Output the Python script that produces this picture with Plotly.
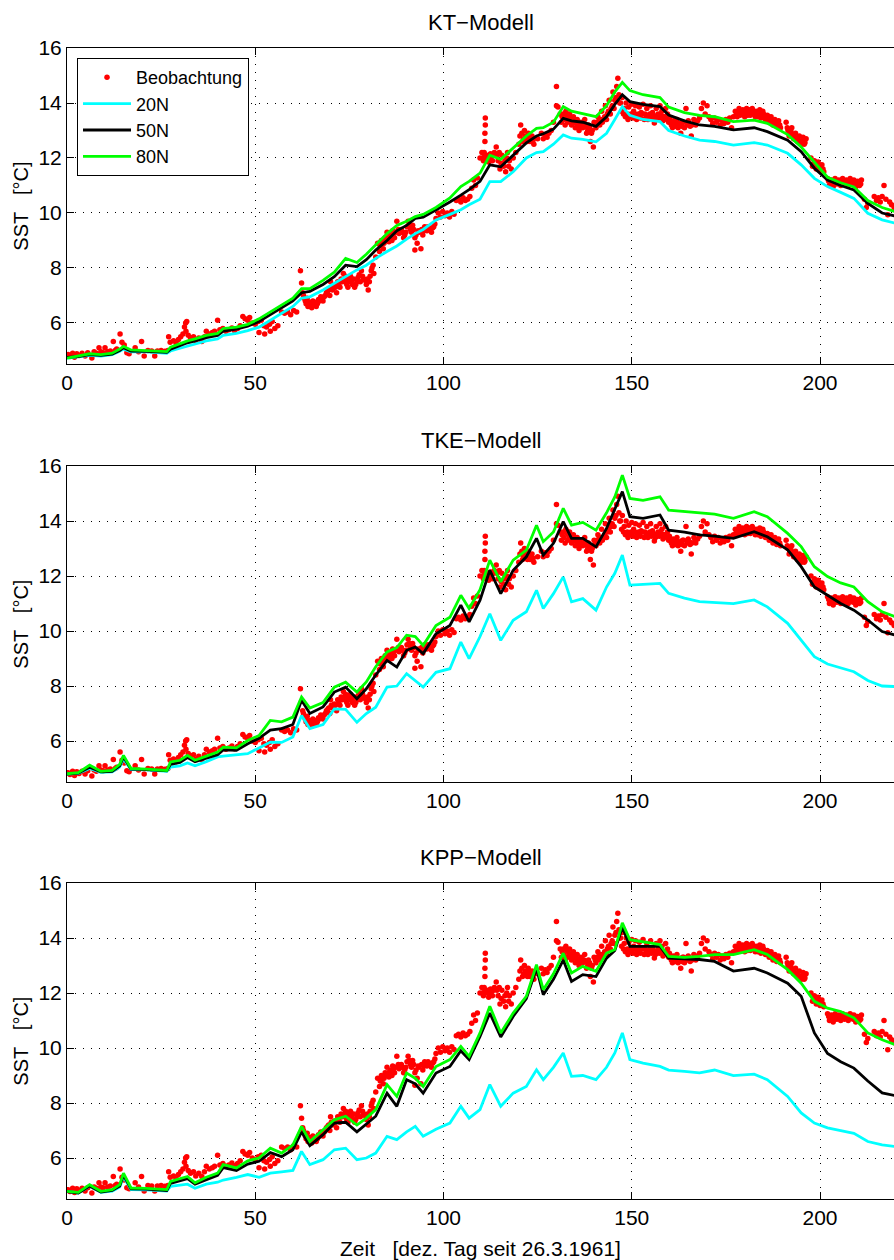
import plotly.graph_objects as go

# ---------------- data ----------------
model_x = [0, 3, 6, 9, 12, 14, 15, 17, 21, 26.5,
           27.5, 30, 32, 34, 37, 40, 41.5, 45, 48, 51,
           54, 57, 60, 62.3, 64.5, 68, 71, 74, 77, 79.5,
           82, 85, 87.6, 90.2, 92.5, 94.6, 98, 101.7, 104.6, 106.8,
           109.7, 112.3, 115.2, 118.5, 122, 124.7, 126.5, 129.2, 131.8, 134,
           137, 140.5, 143.3, 145.5, 147.5, 149.5, 153, 157.5, 159.8, 164,
           168, 172, 177, 182.5, 186, 191.4, 195, 198.5, 202, 205.5,
           209, 212.7, 216.5, 220]

kt_80n = [4.72, 4.80, 4.88, 4.85, 4.90, 5.05, 5.15, 5.02, 5.00, 4.96,
          5.12, 5.25, 5.35, 5.42, 5.55, 5.62, 5.80, 5.85, 5.95, 6.15,
          6.40, 6.65, 6.90, 7.25, 7.25, 7.55, 7.85, 8.35, 8.20, 8.50,
          8.85, 9.25, 9.55, 9.70, 9.87, 9.95, 10.20, 10.55, 10.96, 11.15,
          11.45, 12.10, 11.95, 12.35, 12.80, 13.08, 13.10, 13.30, 13.87, 13.70,
          13.62, 13.50, 13.90, 14.40, 14.75, 14.45, 14.30, 14.20, 13.85, 13.65,
          13.55, 13.50, 13.32, 13.38, 13.26, 12.85, 12.40, 11.85, 11.30, 11.10,
          10.95, 10.45, 10.20, 10.05]
kt_50n = [4.75, 4.78, 4.85, 4.82, 4.87, 5.00, 5.10, 4.98, 4.97, 4.93,
          5.05, 5.18, 5.28, 5.35, 5.47, 5.55, 5.70, 5.78, 5.88, 6.05,
          6.30, 6.55, 6.80, 7.10, 7.15, 7.40, 7.68, 8.10, 8.05, 8.30,
          8.65, 9.00, 9.35, 9.55, 9.80, 9.85, 10.10, 10.40, 10.65, 10.85,
          11.15, 11.75, 11.68, 12.10, 12.55, 12.80, 12.88, 13.05, 13.44, 13.35,
          13.30, 13.15, 13.50, 13.95, 14.30, 14.05, 13.95, 13.87, 13.56, 13.35,
          13.20, 13.15, 13.02, 13.10, 12.96, 12.65, 12.23, 11.63, 11.20, 11.00,
          10.84, 10.35, 10.00, 9.89]
kt_20n = [4.72, 4.76, 4.82, 4.80, 4.85, 4.97, 5.05, 4.95, 4.95, 4.90,
          4.98, 5.08, 5.15, 5.22, 5.35, 5.42, 5.55, 5.62, 5.72, 5.85,
          6.10, 6.35, 6.60, 6.90, 6.95, 7.20, 7.44, 7.70, 7.93, 8.10,
          8.35, 8.60, 8.80, 9.05, 9.25, 9.40, 9.75, 9.95, 10.12, 10.30,
          10.50, 11.14, 11.14, 11.50, 12.00, 12.20, 12.23, 12.50, 12.84, 12.72,
          12.68, 12.59, 12.90, 13.40, 13.87, 13.55, 13.40, 13.32, 13.00, 12.80,
          12.65, 12.60, 12.47, 12.56, 12.47, 12.17, 11.75, 11.26, 10.96, 10.75,
          10.53, 9.99, 9.75, 9.63]

tke_80n = [4.81, 4.85, 5.12, 4.90, 4.93, 5.15, 5.48, 5.00, 4.98, 4.93,
           5.24, 5.30, 5.48, 5.30, 5.45, 5.60, 5.78, 5.75, 6.02, 6.20,
           6.75, 6.70, 6.87, 7.60, 7.20, 7.40, 7.96, 8.14, 7.78, 8.15,
           8.70, 9.24, 9.40, 9.85, 9.80, 9.48, 10.20, 10.50, 11.30, 10.82,
           11.50, 12.58, 11.79, 12.58, 12.94, 13.85, 13.25, 13.60, 14.46, 13.85,
           13.95, 13.67, 14.30, 14.88, 15.67, 14.82, 14.75, 14.88, 14.40, 14.35,
           14.28, 14.25, 14.10, 14.34, 14.16, 13.55, 13.07, 12.34, 11.98, 11.75,
           11.60, 11.07, 10.70, 10.52]
tke_50n = [4.80, 4.83, 5.05, 4.88, 4.90, 5.10, 5.42, 4.98, 4.96, 4.92,
           5.15, 5.22, 5.40, 5.25, 5.38, 5.50, 5.68, 5.66, 5.90, 6.10,
           6.40, 6.45, 6.60, 7.48, 7.00, 7.24, 7.78, 7.96, 7.54, 7.90,
           8.40, 8.93, 8.69, 9.30, 9.42, 9.18, 9.90, 10.20, 10.94, 10.33,
           11.12, 12.21, 11.36, 12.21, 12.70, 13.37, 12.76, 13.19, 13.98, 13.37,
           13.37, 13.06, 13.73, 14.40, 15.07, 14.16, 14.10, 14.22, 13.67, 13.60,
           13.50, 13.45, 13.37, 13.61, 13.43, 12.95, 12.34, 11.60, 11.30, 11.00,
           10.76, 10.40, 9.98, 9.85]
tke_20n = [4.80, 4.82, 5.00, 4.86, 4.88, 5.05, 5.35, 4.96, 4.95, 4.90,
           5.05, 5.10, 5.20, 5.10, 5.25, 5.42, 5.45, 5.50, 5.54, 5.75,
           5.96, 5.95, 6.15, 6.93, 6.45, 6.60, 7.17, 7.15, 6.68, 7.00,
           7.23, 7.96, 8.00, 8.45, 8.20, 7.96, 8.50, 8.63, 9.60, 9.00,
           9.80, 10.63, 9.66, 10.39, 10.70, 11.48, 10.82, 11.36, 11.97, 11.06,
           11.18, 10.76, 11.60, 12.10, 12.76, 11.67, 11.70, 11.73, 11.37, 11.20,
           11.07, 11.05, 11.00, 11.13, 10.88, 10.28, 9.67, 9.07, 8.80, 8.65,
           8.52, 8.20, 8.00, 7.98]

kpp_80n = [4.79, 4.75, 5.03, 4.79, 4.85, 5.03, 5.45, 4.91, 4.90, 4.85,
           5.15, 5.25, 5.33, 5.10, 5.30, 5.45, 5.76, 5.64, 5.90, 6.00,
           6.36, 6.18, 6.48, 7.15, 6.60, 7.03, 7.39, 7.52, 7.20, 7.45,
           7.76, 8.67, 8.24, 9.09, 8.90, 8.60, 9.33, 9.58, 10.06, 9.70,
           10.55, 11.52, 10.55, 11.27, 11.88, 13.03, 12.12, 12.70, 13.45, 12.73,
           12.97, 12.79, 13.45, 13.58, 14.55, 13.94, 13.85, 13.76, 13.33, 13.30,
           13.33, 13.40, 13.40, 13.58, 13.40, 12.85, 12.36, 11.70, 11.45, 11.33,
           11.10, 10.55, 10.30, 10.12]
kpp_50n = [4.78, 4.73, 4.98, 4.76, 4.82, 4.98, 5.38, 4.88, 4.87, 4.82,
           5.08, 5.18, 5.25, 5.05, 5.22, 5.37, 5.65, 5.55, 5.78, 5.88,
           6.20, 6.05, 6.30, 6.95, 6.45, 6.85, 7.27, 7.30, 6.95, 7.25,
           7.52, 8.36, 7.88, 8.85, 8.70, 8.36, 9.09, 9.33, 9.90, 9.58,
           10.42, 11.27, 10.40, 11.15, 11.80, 12.90, 11.94, 12.50, 13.20, 12.42,
           12.67, 12.60, 13.27, 13.55, 14.40, 13.70, 13.70, 13.70, 13.27, 13.25,
           13.22, 13.15, 12.80, 12.90, 12.73, 12.36, 11.88, 10.55, 9.80, 9.50,
           9.27, 8.80, 8.37, 8.27]
kpp_20n = [4.79, 4.73, 4.97, 4.75, 4.80, 4.95, 5.32, 4.85, 4.84, 4.80,
           4.97, 5.00, 5.05, 4.90, 5.05, 5.12, 5.20, 5.30, 5.40, 5.30,
           5.45, 5.50, 5.55, 6.24, 5.76, 5.94, 6.30, 6.36, 5.94, 6.00,
           6.18, 6.79, 6.67, 6.95, 7.15, 6.79, 7.05, 7.27, 7.88, 7.45,
           7.76, 8.67, 7.88, 8.36, 8.60, 9.21, 8.85, 9.30, 9.82, 8.97,
           9.00, 8.85, 9.30, 9.82, 10.55, 9.58, 9.45, 9.33, 9.20, 9.15,
           9.10, 9.20, 9.00, 9.05, 8.85, 8.24, 7.64, 7.27, 7.10, 7.00,
           6.90, 6.60, 6.48, 6.42]

# observations: scattered points
obs_x = [0.3, 0.8, 1.5, 2.0, 2.6, 3.2, 4.0, 4.8, 5.5, 6.6, 7.2, 7.8, 8.5, 9.0, 9.6,
         10.1, 10.8, 11.5, 12.3, 12.8, 13.2, 14.1, 14.6, 15.2, 15.9, 16.5, 18.1, 19.0,
         19.8, 20.5, 21.5, 22.5, 23.3, 24.0, 25.0, 26.0, 26.8,
         27.0, 27.4, 28.3, 29.0, 29.6, 30.2, 30.8, 31.2, 31.5, 31.8, 31.6, 32.2, 32.8,
         33.6, 34.2, 35.0, 35.8, 36.5, 37.0, 37.8, 38.6, 39.2, 40.0, 40.6, 41.4, 42.2,
         43.0, 43.8, 44.5, 45.3, 46.0, 46.7, 47.3, 48.0, 48.5, 49.2, 50.0, 50.8, 51.0,
         51.6, 52.3, 52.5, 53.0, 53.8, 54.0, 54.5, 55.2, 56.0, 57.0, 57.8, 58.6, 59.4,
         60.2, 61.0,
         62.0, 62.3, 62.6, 63.0, 63.5, 64.0, 64.5, 65.0, 65.6, 66.2, 66.8, 67.4, 68.0,
         68.6, 69.2, 69.8, 70.0, 70.5, 71.0, 71.6, 72.2, 72.8, 73.4, 73.8, 74.3, 74.8,
         75.3, 75.8, 76.4, 77.0, 77.6, 78.2, 78.8,
         79.5, 80.0, 80.5, 81.0, 81.5, 82.0, 82.5, 83.0, 83.5, 84.0, 84.5, 85.0, 85.5,
         86.0, 86.5, 87.0, 87.6, 88.2, 88.8, 89.4, 90.0, 90.6, 91.2, 91.8, 92.4, 92.4,
         93.0, 93.5, 94.0, 94.5, 95.0, 95.6, 96.2, 96.8, 97.4, 98.0, 98.6, 99.2, 99.8,
         100.4, 101.0, 101.6, 102.2, 102.8,
         103.4, 104.0, 104.6, 105.2, 105.8, 106.4, 107.0, 107.5, 108.0, 108.5, 109.0,
         109.7, 110.2, 110.6, 111.0, 111.0, 111.0, 111.1, 111.1, 111.5, 112.0, 112.5,
         113.0, 113.5,
         114.0, 114.5, 115.0, 115.5, 116.0, 116.5, 117.0, 117.5, 118.0, 118.5, 119.2,
         120.0, 120.5, 121.0, 121.5, 122.0, 122.5, 123.0, 123.5, 124.0, 125.0, 126.0,
         126.5, 127.0, 127.5, 128.0, 128.6, 129.2, 130.0, 130.0, 130.4, 131.0,
         131.5, 132.0, 132.5, 133.0, 133.5, 134.0, 134.5, 135.0, 135.5, 136.0, 136.5,
         137.0, 137.5, 138.0, 138.5, 139.0, 139.5, 139.8, 140.0, 140.5, 141.0, 141.5,
         142.0, 142.5, 143.0, 143.5, 144.0, 144.5, 145.0, 145.5, 146.0, 146.3, 146.6,
         147.0, 147.5, 148.0,
         148.5, 148.8, 149.2, 149.6, 150.0, 150.5, 151.0, 151.5, 152.0, 152.5, 153.0,
         153.5, 154.0, 154.5, 155.0, 155.5, 156.0, 156.5, 157.0, 157.5, 158.0, 158.5,
         159.0, 159.5,
         160.0, 160.5, 161.0, 161.5, 162.0, 162.5, 163.0, 163.5, 164.0, 164.4, 165.0,
         165.5, 165.8, 166.5, 167.0, 168.0, 168.5, 169.0, 169.5, 170.0, 170.5, 171.0,
         171.5, 172.0, 172.5, 173.0, 173.5, 174.0, 174.5, 175.0, 175.5, 176.0, 176.5,
         177.0,
         177.5, 178.0, 178.5, 179.0, 179.5, 180.0, 180.5, 181.0, 181.5, 182.0, 182.5,
         183.0, 183.5, 184.0, 184.5, 185.0, 185.5, 186.0, 186.5, 187.0, 187.5, 188.0,
         188.5, 189.0, 189.5,
         191.0, 191.5, 192.0, 192.5, 193.0, 193.5, 194.0, 194.5, 195.0, 195.5, 196.0,
         197.6, 198.0, 198.5, 199.0, 199.5, 200.0, 200.5, 201.0, 202.0, 202.5, 203.0,
         203.5, 204.0, 204.5, 205.0, 205.5, 206.0, 206.5, 207.0, 207.5, 208.0, 208.5,
         209.0, 209.5, 210.0, 210.5, 211.0, 211.8, 212.3, 212.7, 214.4, 215.0, 215.5,
         216.0, 216.5, 217.0, 217.5, 218.0, 218.5, 219.0, 219.7]
obs_y = [4.85, 4.78, 4.90, 4.75, 4.88, 4.82, 4.90, 4.80, 4.92, 4.73, 4.95, 4.90, 5.10, 4.95, 4.92,
         5.10, 4.95, 4.98, 5.33, 5.00, 5.05, 5.60, 5.30, 5.20, 4.92, 4.88, 5.10, 4.95,
         5.33, 4.80, 5.00, 4.98, 4.80, 4.98, 5.00, 4.97, 5.00,
         5.50, 5.30, 5.35, 5.25, 5.40, 5.50, 5.60, 5.85, 6.00, 6.05, 5.70, 5.55, 5.45,
         5.50, 5.35, 5.45, 5.33, 5.50, 5.70, 5.60, 5.65, 5.70, 6.10, 5.75, 5.80, 5.70,
         5.75, 5.82, 5.72, 5.80, 5.90, 6.24, 6.15, 6.10, 6.20, 6.00, 5.95, 6.05, 5.65,
         6.10, 5.90, 5.60, 5.85, 5.95, 5.70, 6.05, 5.80, 5.90, 6.40, 6.35, 6.40, 6.30,
         6.45, 6.40,
         7.90, 7.45, 7.10, 6.90, 6.70, 6.60, 6.75, 6.55, 6.70, 6.60, 6.85, 6.95, 6.80,
         7.00, 7.15, 7.00, 7.50, 7.20, 7.35, 7.10, 7.40, 7.60, 7.80, 7.50, 7.40, 7.60,
         7.70, 7.40, 7.30, 7.50, 7.75, 7.90, 7.60,
         7.40, 7.20, 7.70, 8.00, 7.80, 8.40, 8.90, 8.60, 9.00, 8.70, 9.10, 9.30, 8.95,
         9.20, 9.35, 9.10, 9.70, 9.25, 9.40, 9.10, 9.30, 9.70, 9.40, 9.55, 9.10, 8.65,
         8.90, 9.30, 8.70, 9.20, 9.50, 9.35, 9.45, 9.30, 9.50, 9.80, 10.00, 9.85, 10.05,
         9.90, 10.00, 9.85, 10.05, 9.95,
         10.45, 10.50, 10.40, 10.55, 10.45, 10.50, 10.60, 10.90, 11.20, 11.00, 11.27,
         12.00, 12.20, 11.90, 12.10, 12.60, 12.90, 13.20, 13.45, 12.00, 11.85, 12.15,
         11.90, 12.20,
         12.40, 11.90, 11.60, 12.10, 11.70, 11.50, 12.20, 11.90, 11.60, 12.00, 12.20,
         12.50, 13.20, 12.60, 13.00, 12.70, 12.90, 12.60, 12.80, 12.50, 12.70, 12.90,
         12.70, 12.85, 12.75, 12.90, 13.00, 13.30, 13.90, 14.60, 13.85, 13.60,
         13.50, 13.40, 13.70, 13.30, 13.60, 13.20, 13.50, 13.10, 13.40, 13.00, 13.30,
         13.10, 13.40, 12.90, 13.20, 12.60, 13.00, 12.40, 13.30, 13.10, 13.50, 13.20,
         13.70, 13.40, 13.90, 13.60, 14.10, 13.80, 14.40, 14.10, 14.60, 14.90, 14.30,
         14.00, 14.20, 13.80,
         14.00, 13.60, 13.85, 13.50, 13.95, 13.70, 13.90, 13.55, 13.85, 13.65, 13.95,
         13.60, 13.80, 13.55, 13.90, 13.65, 13.27, 13.80, 13.60, 13.90, 13.70, 13.50,
         13.80, 13.60,
         13.45, 13.20, 13.35, 13.15, 13.40, 13.20, 12.90, 13.30, 13.10, 13.80, 13.35,
         13.15, 12.80, 13.40, 13.20, 13.45, 13.80, 14.00, 13.60, 13.90, 13.50, 13.40,
         13.25, 13.45, 13.30, 13.40, 13.20, 13.35, 13.25, 13.40, 13.30, 13.45, 13.10,
         13.50,
         13.70, 13.50, 13.80, 13.60, 13.75, 13.50, 13.80, 13.65, 13.55, 13.80, 13.60,
         13.70, 13.50, 13.75, 13.55, 13.60, 13.40, 13.55, 13.30, 13.50, 13.20, 13.40,
         13.15, 13.35, 13.10,
         13.30, 13.00, 12.90, 13.10, 12.70, 12.90, 12.60, 12.80, 12.50, 12.75, 12.55,
         12.00, 11.70, 11.90, 11.60, 11.85, 11.55, 11.75, 11.50, 11.25, 11.00, 11.20,
         10.95, 11.25, 11.05, 11.20, 11.00, 11.25, 11.05, 11.20, 11.00, 11.25, 11.10,
         11.20, 10.95, 11.15, 11.00, 11.20, 10.50, 10.20, 10.35, 10.60, 10.45, 10.55,
         10.40, 10.60, 11.00, 10.50, 9.94, 10.40, 10.30, 10.20]

# observations: points filling the dense bands
obs_band_x = [62.8, 63.3, 63.8, 64.3, 64.8, 65.3, 65.9, 66.5, 67.1, 67.7, 68.3, 68.9,
              69.5, 70.2, 70.8, 71.3, 71.9, 72.5, 73.1, 73.6, 74.0, 74.6, 75.0, 75.6,
              76.1, 76.7, 77.3, 77.9, 78.5, 79.1, 79.8, 80.3, 80.8, 81.3,
              83.2, 83.8, 84.2, 84.8, 85.3, 85.8, 86.3, 86.8, 87.3, 88.0, 88.5, 89.1,
              89.7, 90.3, 90.9, 91.5, 92.1, 92.7, 93.3, 94.2, 94.8, 95.3, 95.9, 96.5,
              97.1, 97.7,
              110.4, 110.8, 111.3, 111.8, 112.3, 112.8, 113.3, 114.2, 114.8, 115.3,
              116.3, 116.8, 117.3, 120.3, 120.8, 121.3, 121.8, 122.3, 122.8, 123.3, 123.8,
              131.3, 131.8, 132.3, 132.8, 133.3, 133.8, 134.3, 134.8, 135.3, 135.8,
              136.3, 136.8, 137.3, 137.8, 138.3, 138.8, 139.3, 140.3, 140.8, 141.3, 141.8,
              142.2, 142.8, 143.3, 143.8, 144.3, 144.8, 145.3, 145.8, 146.8, 147.3, 147.8,
              148.3, 149.0, 149.8, 150.3, 150.8, 151.3, 151.8, 152.3, 152.8, 153.3, 153.8,
              154.3, 154.8, 155.3, 155.8, 156.3, 156.8, 157.3, 157.8, 158.3, 158.8, 159.3,
              159.8,
              160.3, 160.8, 161.3, 161.8, 162.3, 162.8, 163.3, 163.8, 164.8, 165.3, 166.0,
              166.8, 167.5,
              177.8, 178.3, 178.8, 179.3, 179.8, 180.3, 180.8, 181.3, 181.8, 182.3, 182.8,
              183.3, 183.8, 184.3, 184.8, 185.3, 185.8, 186.3, 186.8, 187.3, 187.8, 188.3,
              188.8, 189.3,
              191.3, 191.8, 192.3, 192.8, 193.3, 193.8, 194.3, 194.8, 195.3, 195.8, 196.3,
              198.3, 198.8, 199.3, 199.8, 200.3, 200.8, 202.3, 202.8, 203.3, 203.8, 204.3,
              204.8, 205.3, 205.8, 206.3, 206.8, 207.3, 207.8, 208.3, 208.8, 209.3, 209.8,
              210.3, 210.8]
obs_band_y = [7.00, 6.80, 6.90, 6.70, 6.60, 6.80, 6.75, 6.70, 6.80, 6.90, 6.95, 7.10,
              7.20, 7.30, 7.25, 7.30, 7.50, 7.30, 7.50, 7.60, 7.70, 7.30, 7.50, 7.55,
              7.60, 7.40, 7.65, 7.50, 7.70, 7.55, 7.60, 7.50, 7.90, 8.10,
              8.80, 8.90, 8.90, 9.00, 9.10, 9.15, 9.00, 9.25, 9.30, 9.40, 9.30, 9.30,
              9.20, 9.50, 9.55, 9.30, 9.40, 9.20, 9.35, 9.40, 9.35, 9.40, 9.50, 9.40,
              9.45, 9.60,
              12.00, 12.20, 12.05, 12.10, 12.00, 12.05, 12.10, 12.10, 12.20, 11.80,
              11.90, 12.00, 11.70, 12.80, 12.90, 12.70, 12.80, 12.60, 12.75, 12.70, 12.65,
              13.30, 13.60, 13.20, 13.55, 13.45, 13.40, 13.30, 13.35, 13.25, 13.20,
              13.15, 13.25, 13.20, 13.15, 13.00, 13.10, 12.90, 13.20, 13.30, 13.35, 13.40,
              13.30, 13.50, 13.40, 13.70, 13.60, 13.90, 13.80, 14.20, 14.00, 13.70, 13.60,
              13.50, 13.40, 13.60, 13.45, 13.60, 13.40, 13.60, 13.45, 13.60, 13.40, 13.55,
              13.40, 13.60, 13.45, 13.55, 13.40, 13.50, 13.45, 13.55, 13.35, 13.50, 13.40,
              13.30,
              13.30, 13.10, 13.25, 13.30, 13.10, 13.25, 13.15, 13.30, 13.20, 13.25, 13.20,
              13.30, 13.35,
              13.60, 13.65, 13.55, 13.70, 13.60, 13.65, 13.55, 13.75, 13.65, 13.70, 13.50,
              13.60, 13.65, 13.45, 13.70, 13.50, 13.45, 13.50, 13.40, 13.35, 13.30, 13.30,
              13.25, 13.20,
              13.10, 12.80, 12.95, 12.85, 12.75, 12.70, 12.65, 12.60, 12.60, 12.50, 12.70,
              11.80, 11.75, 11.70, 11.65, 11.60, 11.60, 11.15, 11.10, 11.10, 11.05, 11.15,
              11.10, 11.10, 11.15, 11.10, 11.15, 11.10, 11.10, 11.15, 11.05, 11.10, 11.05,
              11.10, 11.05]

panel_titles = ["KT\u2212Modell", "TKE\u2212Modell", "KPP\u2212Modell"]
series_names = ["Beobachtung", "20N", "50N", "80N"]
x_ticks = [0, 50, 100, 150, 200]
y_ticks = [6, 8, 10, 12, 14, 16]
y_label = "SST\u00a0\u00a0\u00a0[\u00b0C]"
x_label = "Zeit\u00a0\u00a0\u00a0[dez. Tag seit 26.3.1961]"

panels = [(kt_20n, kt_50n, kt_80n), (tke_20n, tke_50n, tke_80n), (kpp_20n, kpp_50n, kpp_80n)]

# ---------------- styling ----------------
FONT = "Liberation Sans, Arial, Helvetica, sans-serif"
line_colors = ["#00FFFF", "#000000", "#00FF00"]
domains = [[0.7255, 1.0], [0.3623, 0.6368], [0.0, 0.2745]]

all_obs_x = obs_x + obs_band_x
all_obs_y = obs_y + obs_band_y

fig = go.Figure()
for i, (s20, s50, s80) in enumerate(panels):
    xa = "x" if i == 0 else f"x{i+1}"
    ya = "y" if i == 0 else f"y{i+1}"
    show = (i == 0)
    fig.add_trace(go.Scatter(x=all_obs_x, y=all_obs_y, mode="markers", name=series_names[0],
                             marker=dict(color="#FF0000", size=5.5, line=dict(width=0)),
                             xaxis=xa, yaxis=ya, showlegend=show, legendgroup="obs"))
    for name, ys, col in zip(series_names[1:], (s20, s50, s80), line_colors):
        fig.add_trace(go.Scatter(x=model_x, y=ys, mode="lines", name=name,
                                 line=dict(color=col, width=2.8),
                                 xaxis=xa, yaxis=ya, showlegend=show, legendgroup=name))

layout = dict(
    width=894, height=1260,
    margin=dict(l=67, r=0, t=48, b=61),
    paper_bgcolor="white", plot_bgcolor="white",
    font=dict(family=FONT, size=20, color="black"),
    showlegend=True,
    legend=dict(x=0.0121, y=0.9913, xanchor="left", yanchor="top",
                bgcolor="white", bordercolor="black", borderwidth=1,
                font=dict(family=FONT, size=18, color="black"),
                itemwidth=48, tracegroupgap=0),
    annotations=[],
)

for i in range(3):
    xk = "xaxis" if i == 0 else f"xaxis{i+1}"
    yk = "yaxis" if i == 0 else f"yaxis{i+1}"
    ya = "y" if i == 0 else f"y{i+1}"
    xa = "x" if i == 0 else f"x{i+1}"
    layout[xk] = dict(domain=[0, 1], anchor=ya, range=[0, 219.65],
                      tickvals=x_ticks, ticks="inside", ticklen=7, tickcolor="black",
                      showline=True, linecolor="black", linewidth=1, mirror="allticks",
                      showgrid=True, gridcolor="black", gridwidth=1, griddash="1px,7px",
                      zeroline=False, tickfont=dict(family=FONT, size=21, color="black"))
    layout[yk] = dict(domain=domains[i], anchor=xa, range=[4.51, 16],
                      tickvals=y_ticks, ticks="inside", ticklen=7, tickcolor="black",
                      showline=True, linecolor="black", linewidth=1, mirror=False,
                      showgrid=True, gridcolor="black", gridwidth=1, griddash="1px,7px",
                      zeroline=False, tickfont=dict(family=FONT, size=21, color="black"))
    d0, d1 = domains[i]
    layout["annotations"].append(dict(
        text=panel_titles[i], xref="paper", yref="paper", x=0.5, y=d1,
        xanchor="center", yanchor="bottom", yshift=11, showarrow=False,
        font=dict(family=FONT, size=22, color="black")))
    layout["annotations"].append(dict(
        text=y_label, xref="paper", yref="paper", x=-0.056, y=(d0 + d1) / 2,
        xanchor="center", yanchor="middle", textangle=-90, showarrow=False,
        font=dict(family=FONT, size=20, color="black")))

layout["annotations"].append(dict(
    text=x_label, xref="paper", yref="paper", x=0.5, y=0,
    xanchor="center", yanchor="top", yshift=-36, showarrow=False,
    font=dict(family=FONT, size=21, color="black")))

fig.update_layout(**layout)
fig.write_html("out.html")
